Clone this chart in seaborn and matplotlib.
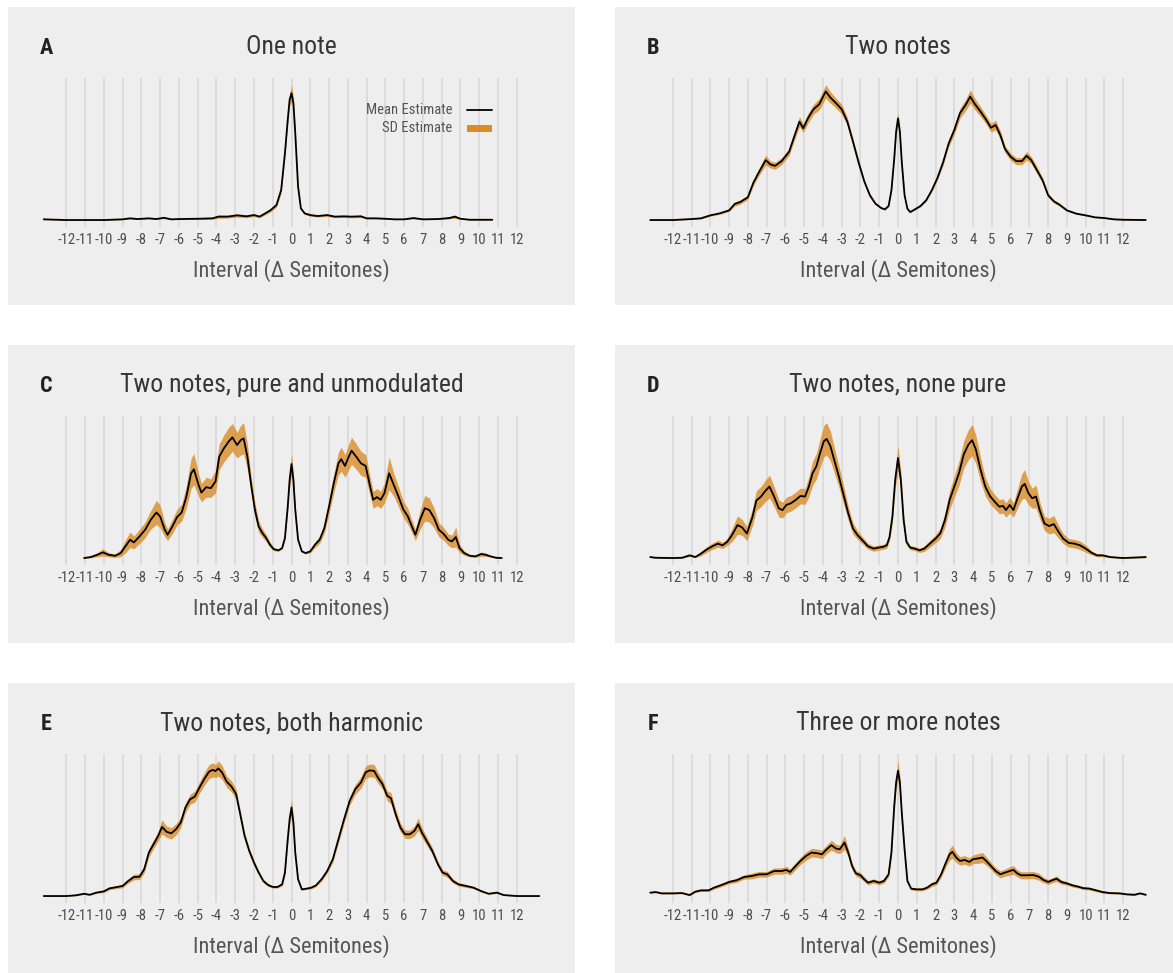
import matplotlib
matplotlib.use("Agg")
import matplotlib.pyplot as plt
from matplotlib.patches import Rectangle
from matplotlib.lines import Line2D
import pandas as pd
import seaborn as sns

# ---- interval axis ---------------------------------------------------------
tick_values = list(range(-12, 13))
tick_labels = [str(v) for v in tick_values]
axis_title = "Interval (\u0394 Semitones)"

# ---- A: one note -----------------------------------------------------------
x_a = [-13.2, -12, -10, -9, -8.6, -8.2, -7.6, -7.2, -6.8, -6.4, -6.0, -5.0, -4.2,
       -3.9, -3.4, -2.9, -2.4, -2.0, -1.7, -1.4, -1.1, -0.8, -0.55, -0.35, -0.2,
       -0.1, 0.0, 0.1, 0.2, 0.35, 0.5, 0.7, 1.0, 1.4, 1.9, 2.3, 2.8, 3.2, 3.7,
       4.0, 4.5, 5.0, 5.5, 6.0, 6.5, 7.0, 7.8, 8.4, 8.7, 9.0, 9.5, 10.0, 10.7]
mean_a = [0.5, 0.0, 0.0, 0.5, 1.2, 0.7, 1.2, 0.7, 1.6, 0.5, 0.7, 0.9, 1.2,
          2.4, 2.4, 3.3, 2.6, 3.5, 2.4, 4.7, 7.1, 10.6, 21.2, 47.1, 70.6,
          84.7, 89.4, 82.4, 61.2, 23.5, 8.2, 4.7, 3.5, 2.8, 3.5, 2.4, 2.6, 2.4, 2.6,
          1.2, 1.2, 0.9, 0.5, 0.5, 1.4, 0.5, 0.7, 1.4, 2.4, 0.9, 0.2, 0.2, 0.2]
sd_a = [0.2, 0.2, 0.2, 0.3, 0.4, 0.3, 0.4, 0.3, 0.6, 0.3, 0.3, 0.4, 0.6,
        1.2, 1.0, 1.2, 1.0, 1.0, 0.8, 1.0, 1.2, 1.5, 2.0, 2.5, 3.0,
        4.0, 5.9, 4.0, 3.0, 2.0, 1.0, 0.8, 0.8, 0.7, 1.0, 0.7, 0.8, 0.8, 0.9,
        0.4, 0.4, 0.3, 0.2, 0.2, 0.6, 0.3, 0.3, 0.6, 1.2, 0.4, 0.2, 0.2, 0.2]

# ---- B: two notes ----------------------------------------------------------
x_b = [-13.2, -12.0, -11.0, -10.5, -10.0, -9.5, -9.0, -8.7, -8.4, -8.0,
       -7.7, -7.4, -7.05, -6.8, -6.55, -6.2, -5.8, -5.5, -5.25, -5.05,
       -4.8, -4.5, -4.2, -3.85, -3.6, -3.3, -3.0, -2.7, -2.4, -2.1,
       -1.8, -1.5, -1.2, -0.9, -0.7, -0.5, -0.35, -0.2, -0.1, 0.0,
       0.1, 0.2, 0.35, 0.5, 0.65, 0.9, 1.2, 1.5, 1.8, 2.1,
       2.4, 2.7, 3.0, 3.3, 3.6, 3.85, 4.1, 4.4, 4.7, 4.95,
       5.2, 5.45, 5.7, 6.0, 6.3, 6.6, 6.85, 7.1, 7.4, 7.7,
       8.0, 8.3, 8.6, 9.0, 9.5, 10.0, 10.5, 11.0, 11.5, 12.0,
       13.2]
mean_b = [0.0, 0.0, 0.7, 1.2, 3.3, 4.7, 6.8, 11.3, 12.7, 16.0,
          26.4, 33.9, 42.1, 39.1, 38.1, 41.4, 48.0, 59.8, 69.2, 64.5,
          71.5, 77.9, 81.4, 90.4, 86.1, 82.1, 77.9, 69.2, 55.1, 40.5,
          27.3, 17.4, 11.5, 8.5, 7.5, 9.9, 20.9, 43.3, 62.1, 71.5,
          62.1, 40.9, 17.4, 8.0, 5.6, 7.5, 9.9, 13.9, 20.9, 29.6,
          40.5, 53.9, 63.3, 75.1, 80.9, 86.8, 81.4, 76.2, 70.4, 64.9,
          66.8, 59.8, 49.9, 44.5, 41.4, 41.4, 45.2, 42.1, 35.1, 28.0,
          17.4, 13.2, 10.8, 6.8, 4.5, 3.3, 1.9, 1.4, 0.5, 0.2,
          0.0]
sd_b = [0.2, 0.2, 0.3, 0.4, 0.6, 0.7, 0.8, 1.5, 1.5, 1.5,
        2.0, 2.5, 3.5, 2.5, 2.5, 2.5, 2.5, 3.0, 3.5, 3.0,
        3.5, 3.5, 4.0, 4.7, 4.0, 3.5, 3.5, 3.0, 2.5, 2.0,
        1.5, 1.2, 0.8, 0.6, 0.5, 0.6, 1.0, 1.5, 2.5, 4.2,
        2.5, 1.5, 1.0, 0.5, 0.4, 0.5, 0.6, 0.8, 1.0, 1.5,
        2.0, 2.5, 3.0, 3.5, 4.0, 4.7, 4.0, 3.5, 3.0, 3.0,
        3.5, 3.0, 2.5, 2.5, 2.5, 2.5, 3.0, 2.5, 2.5, 2.0,
        1.5, 1.2, 1.0, 0.7, 0.5, 0.5, 0.3, 0.3, 0.2, 0.2,
        0.2]

# ---- C: two notes, pure and unmodulated -----------------------------------
x_c = [-11.05, -10.7, -10.35, -10.05, -9.75, -9.4, -9.1, -8.85, -8.6, -8.4,
       -8.1, -7.8, -7.5, -7.2, -7.0, -6.75, -6.6, -6.35, -6.1, -5.85,
       -5.6, -5.35, -5.2, -4.95, -4.8, -4.55, -4.3, -4.05, -3.85, -3.6,
       -3.35, -3.15, -2.9, -2.7, -2.55, -2.35, -2.15, -1.95, -1.75, -1.55,
       -1.35, -1.15, -0.95, -0.7, -0.5, -0.35, -0.2, -0.1, 0.0, 0.1,
       0.2, 0.35, 0.55, 0.75, 1.0, 1.25, 1.5, 1.75, 2.0, 2.25,
       2.5, 2.65, 2.85, 3.05, 3.2, 3.45, 3.7, 3.95, 4.15, 4.35,
       4.55, 4.75, 4.95, 5.2, 5.45, 5.7, 5.95, 6.2, 6.4, 6.6,
       6.85, 7.1, 7.35, 7.6, 7.85, 8.1, 8.35, 8.55, 8.75, 8.95,
       9.2, 9.5, 9.8, 10.1, 10.35, 10.6, 10.9, 11.2]
mean_c = [0.0, 0.7, 2.3, 4.0, 2.3, 1.6, 3.5, 8.2, 12.9, 11.0,
          15.2, 19.9, 26.9, 32.1, 29.3, 19.9, 16.4, 22.2, 28.8, 32.1,
          43.3, 59.7, 62.5, 51.5, 46.1, 49.9, 49.2, 53.9, 71.4, 77.3,
          82.0, 85.0, 79.6, 83.1, 84.3, 71.4, 51.5, 34.0, 22.2, 17.6,
          14.1, 9.4, 6.3, 5.4, 7.0, 14.1, 36.3, 55.0, 66.3, 55.0,
          34.0, 12.9, 4.7, 3.5, 4.7, 9.4, 12.9, 21.1, 36.3, 52.7,
          66.7, 69.6, 64.9, 71.4, 75.6, 71.4, 66.7, 64.9, 52.7, 41.0,
          42.9, 41.0, 45.7, 59.7, 51.5, 43.3, 34.4, 29.3, 22.7, 16.4,
          26.9, 35.1, 33.7, 28.1, 19.9, 17.1, 12.9, 11.7, 14.8, 7.0,
          3.5, 1.6, 1.2, 2.8, 2.3, 1.2, 0.2, 0.0]
sd_c = [0.3, 0.6, 1.5, 2.5, 1.5, 1.2, 2.5, 4.5, 5.5, 4.5,
        5.0, 5.5, 6.5, 8.5, 8.0, 5.0, 4.0, 5.0, 5.5, 6.0,
        8.0, 10.5, 11.0, 8.0, 6.5, 7.0, 6.5, 8.0, 9.0, 9.5,
        10.0, 9.8, 9.0, 10.5, 11.0, 9.0, 6.0, 5.0, 4.0, 3.0,
        2.5, 2.0, 1.2, 0.6, 0.8, 1.5, 3.0, 5.0, 7.5, 5.0,
        3.0, 1.2, 0.6, 0.6, 1.0, 2.0, 2.5, 3.5, 5.0, 6.5,
        8.0, 8.5, 8.0, 9.0, 9.5, 9.0, 8.5, 8.0, 7.0, 6.0,
        6.0, 6.0, 7.0, 11.5, 8.0, 7.0, 6.0, 5.5, 4.5, 4.0,
        6.5, 9.0, 8.5, 7.0, 5.0, 4.5, 4.0, 4.5, 7.0, 3.0,
        1.5, 0.8, 0.8, 1.5, 1.2, 0.6, 0.3, 0.2]

# ---- D: two notes, none pure ----------------------------------------------
x_d = [-13.2, -12.9, -12.0, -11.5, -11.1, -10.8, -10.5, -10.2, -9.9, -9.6,
       -9.35, -9.1, -8.85, -8.55, -8.3, -8.05, -7.75, -7.55, -7.3, -7.05,
       -6.85, -6.6, -6.35, -6.15, -5.95, -5.7, -5.45, -5.2, -4.95, -4.75,
       -4.55, -4.35, -4.15, -3.95, -3.8, -3.6, -3.4, -3.15, -2.9, -2.65,
       -2.4, -2.15, -1.9, -1.6, -1.3, -1.05, -0.8, -0.6, -0.45, -0.3,
       -0.15, 0.0, 0.15, 0.3, 0.45, 0.65, 0.9, 1.15, 1.4, 1.7,
       2.0, 2.25, 2.5, 2.75, 3.0, 3.25, 3.5, 3.75, 3.95, 4.15,
       4.4, 4.65, 4.9, 5.15, 5.4, 5.6, 5.75, 5.95, 6.15, 6.4,
       6.6, 6.75, 6.95, 7.15, 7.35, 7.55, 7.8, 8.05, 8.3, 8.55,
       8.8, 9.1, 9.4, 9.7, 10.0, 10.3, 10.6, 10.9, 11.3, 12.0,
       13.2]
mean_d = [0.7, 0.2, 0.0, 0.2, 1.9, 0.7, 3.1, 5.9, 8.2, 10.1,
          8.9, 11.3, 16.0, 23.1, 21.4, 17.2, 28.9, 40.2, 43.1, 47.3,
          50.1, 43.1, 34.8, 33.6, 37.2, 38.4, 40.7, 43.5, 43.1, 50.1,
          59.5, 64.2, 73.6, 81.9, 83.5, 78.4, 68.9, 57.2, 44.2, 31.3,
          20.7, 16.0, 12.5, 8.2, 6.6, 7.3, 7.8, 8.9, 14.8, 28.9,
          54.8, 70.1, 54.8, 26.6, 11.3, 7.3, 6.6, 5.4, 6.6, 10.1,
          13.6, 17.2, 26.6, 40.7, 50.1, 59.5, 72.5, 79.5, 82.6, 76.0,
          61.9, 50.1, 43.5, 39.5, 36.0, 36.5, 33.6, 37.2, 33.6, 43.1,
          50.1, 52.0, 45.4, 41.9, 43.1, 33.6, 24.2, 22.4, 23.8, 18.4,
          13.6, 10.6, 10.1, 8.9, 6.6, 3.8, 1.9, 1.9, 0.7, 0.0,
          0.7]
sd_d = [0.5, 0.3, 0.3, 0.3, 0.8, 0.5, 1.5, 2.0, 2.2, 2.5,
        2.2, 2.5, 4.5, 6.5, 5.5, 5.0, 6.0, 7.0, 7.0, 7.5,
        8.0, 7.0, 6.0, 5.5, 5.5, 5.5, 5.5, 5.5, 5.5, 7.0,
        8.5, 9.0, 10.0, 11.0, 11.3, 10.5, 9.0, 7.5, 6.5, 5.0,
        4.0, 3.0, 2.5, 2.0, 1.8, 1.8, 1.8, 2.0, 2.5, 4.0,
        6.0, 8.7, 6.0, 3.5, 2.0, 1.5, 1.5, 1.5, 2.0, 2.5,
        2.8, 3.5, 5.0, 6.5, 7.5, 8.5, 9.5, 10.5, 11.0, 10.0,
        8.5, 6.5, 5.5, 5.0, 5.0, 5.0, 5.0, 5.5, 5.0, 7.0,
        9.0, 10.0, 8.0, 7.0, 8.0, 6.0, 5.0, 5.5, 6.0, 4.5,
        3.5, 3.0, 3.0, 3.0, 2.5, 1.5, 1.0, 1.0, 0.5, 0.3,
        0.5]

# ---- E: two notes, both harmonic ------------------------------------------
x_e = [-13.2, -12.0, -11.5, -11.05, -10.75, -10.4, -10.0, -9.7, -9.4, -9.0,
       -8.7, -8.4, -8.1, -7.85, -7.6, -7.35, -7.1, -6.9, -6.65, -6.4,
       -6.15, -5.9, -5.65, -5.4, -5.15, -4.9, -4.65, -4.4, -4.2, -4.05,
       -3.9, -3.7, -3.45, -3.2, -2.95, -2.75, -2.5, -2.25, -2.0, -1.75,
       -1.5, -1.25, -1.0, -0.75, -0.5, -0.35, -0.2, -0.1, 0.0, 0.1,
       0.2, 0.35, 0.55, 0.8, 1.05, 1.3, 1.6, 1.9, 2.2, 2.5,
       2.8, 3.1, 3.4, 3.7, 3.95, 4.15, 4.4, 4.6, 4.85, 5.1,
       5.3, 5.55, 5.8, 6.05, 6.3, 6.55, 6.75, 6.95, 7.2, 7.5,
       7.8, 8.05, 8.3, 8.6, 8.9, 9.3, 9.7, 10.1, 10.5, 10.95,
       11.3, 12.0, 13.2]
mean_e = [0.0, 0.0, 0.5, 1.6, 0.9, 2.4, 3.3, 5.4, 6.1, 7.1,
          10.6, 13.4, 13.6, 18.8, 30.6, 36.5, 42.4, 48.7, 45.2, 44.2,
          47.1, 51.8, 62.4, 68.2, 70.1, 76.5, 82.4, 87.5, 88.9, 88.0,
          89.9, 87.1, 80.5, 77.2, 71.8, 58.8, 42.4, 31.8, 23.5, 16.5,
          10.6, 7.8, 6.4, 6.4, 8.2, 16.5, 40.0, 54.1, 62.4, 51.8,
          30.6, 11.8, 4.7, 5.2, 5.9, 7.5, 11.8, 17.6, 25.9, 40.0,
          54.1, 67.1, 75.3, 80.0, 87.1, 88.5, 88.2, 83.5, 78.8, 70.6,
          68.9, 57.6, 48.2, 43.5, 43.5, 45.9, 50.6, 44.7, 38.8, 31.8,
          22.4, 16.5, 15.3, 10.6, 8.2, 7.1, 5.9, 3.5, 1.6, 2.4,
          0.7, 0.0, 0.0]
sd_e = [0.2, 0.2, 0.3, 0.5, 0.4, 0.6, 0.8, 1.0, 1.0, 1.2,
        1.5, 2.0, 2.0, 2.5, 3.0, 3.0, 3.5, 5.0, 4.0, 4.0,
        4.0, 3.5, 3.5, 3.5, 4.0, 4.0, 4.5, 5.0, 5.0, 4.5,
        5.4, 5.0, 4.0, 4.0, 3.5, 3.0, 2.5, 2.0, 1.8, 1.5,
        1.2, 1.0, 0.8, 0.8, 1.0, 1.5, 2.5, 3.5, 5.9, 3.5,
        2.0, 1.0, 0.6, 0.6, 0.8, 1.0, 1.2, 1.5, 2.0, 2.5,
        3.0, 3.0, 3.5, 4.0, 4.5, 4.5, 4.5, 4.0, 3.5, 3.5,
        4.0, 3.5, 3.0, 3.0, 3.0, 3.5, 4.5, 3.5, 3.0, 2.5,
        2.0, 2.0, 2.0, 1.5, 1.2, 1.0, 0.8, 0.6, 0.4, 0.6,
        0.3, 0.2, 0.2]

# ---- F: three or more notes -----------------------------------------------
x_f = [-13.2, -12.9, -12.6, -12.0, -11.5, -11.1, -10.8, -10.5, -10.1, -9.8,
       -9.4, -9.0, -8.6, -8.2, -7.8, -7.4, -7.0, -6.6, -6.2, -5.95,
       -5.75, -5.5, -5.2, -4.9, -4.6, -4.3, -4.05, -3.8, -3.55, -3.3,
       -3.1, -2.85, -2.65, -2.45, -2.25, -2.0, -1.8, -1.6, -1.3, -1.0,
       -0.75, -0.5, -0.35, -0.2, -0.1, 0.0, 0.1, 0.2, 0.35, 0.5,
       0.7, 1.0, 1.3, 1.55, 1.8, 2.05, 2.3, 2.55, 2.75, 2.9,
       3.1, 3.3, 3.55, 3.8, 4.0, 4.25, 4.5, 4.7, 4.95, 5.2,
       5.45, 5.7, 5.95, 6.15, 6.35, 6.55, 6.9, 7.2, 7.5, 7.75,
       8.0, 8.25, 8.45, 8.7, 9.0, 9.3, 9.6, 9.85, 10.2, 10.5,
       10.9, 11.3, 11.8, 12.2, 12.6, 12.9, 13.2]
mean_f = [2.4, 2.8, 1.9, 1.9, 2.1, 0.7, 3.1, 4.0, 4.0, 5.9,
          7.8, 9.9, 11.1, 13.4, 14.1, 15.3, 15.3, 17.6, 17.6, 18.4,
          16.9, 20.5, 24.7, 28.2, 30.6, 30.1, 29.4, 32.9, 35.8, 33.4,
          32.9, 37.6, 30.6, 21.2, 16.0, 14.6, 11.8, 9.4, 10.6, 9.4,
          10.6, 15.3, 30.6, 63.5, 80.0, 88.2, 80.0, 58.8, 32.9, 10.6,
          5.2, 4.7, 4.7, 5.9, 8.2, 9.4, 15.3, 23.5, 29.4, 31.1,
          27.1, 24.7, 25.4, 24.0, 25.9, 26.4, 27.1, 24.7, 21.2, 17.6,
          15.3, 16.5, 17.6, 18.4, 16.0, 14.6, 14.6, 14.8, 13.6, 11.3,
          9.9, 11.3, 12.2, 9.9, 8.9, 7.5, 6.6, 5.6, 5.2, 4.2,
          2.8, 2.1, 1.9, 1.2, 0.9, 1.9, 0.9]
sd_f = [0.5, 0.5, 0.5, 0.5, 0.5, 0.5, 0.6, 0.8, 0.8, 1.0,
        1.2, 1.2, 1.5, 1.5, 2.0, 2.0, 2.0, 2.2, 2.2, 2.5,
        2.2, 2.5, 2.5, 3.0, 3.0, 3.0, 3.0, 3.0, 3.5, 3.0,
        3.0, 5.0, 3.0, 2.5, 2.0, 2.0, 1.8, 1.5, 1.5, 1.5,
        1.5, 1.8, 2.5, 3.5, 4.5, 7.0, 4.5, 3.0, 2.0, 1.2,
        1.0, 1.0, 1.0, 1.2, 1.5, 1.5, 2.0, 3.0, 4.0, 4.7,
        3.5, 3.0, 3.0, 3.0, 3.0, 3.5, 3.5, 3.0, 2.5, 2.5,
        2.5, 2.5, 3.0, 3.0, 2.5, 2.5, 2.5, 2.5, 2.5, 2.0,
        1.8, 1.8, 2.0, 1.5, 1.2, 1.2, 1.0, 1.0, 1.0, 1.0,
        0.8, 0.6, 0.6, 0.5, 0.5, 0.5, 0.5]

panels = [
    ("A", "One note", x_a, mean_a, sd_a),
    ("B", "Two notes", x_b, mean_b, sd_b),
    ("C", "Two notes, pure and unmodulated", x_c, mean_c, sd_c),
    ("D", "Two notes, none pure", x_d, mean_d, sd_d),
    ("E", "Two notes, both harmonic", x_e, mean_e, sd_e),
    ("F", "Three or more notes", x_f, mean_f, sd_f),
]

# ---- style -----------------------------------------------------------------
sns.set_style("white")
plt.rcParams["font.family"] = ["Roboto Condensed", "Liberation Sans Narrow",
                               "Roboto", "DejaVu Sans"]

BG = "#EEEEEE"
GRID = "#DCDCDC"
ORANGE = "#D98C28"
TITLE_C = "#363636"
TEXT_C = "#555555"

W, H = 1173, 973
fig = plt.figure(figsize=(W / 100, H / 100), dpi=100, facecolor="white")


def fx(px):
    return px / W


def fy(py):
    return 1 - py / H


col_box = [(8, 575), (615, 1181)]
col_zero = [291.5, 898.0]
col_letter = [46, 653]
row_top = [7, 345, 683]
BOX_H = 298
PX_PER_SEMI = 18.77
XLIM = (-14, 14)

for i, (letter, title, xs, mean, sd) in enumerate(panels):
    r, c = divmod(i, 2)
    T = row_top[r]
    bx0, bx1 = col_box[c]
    fig.add_artist(Rectangle((fx(bx0), fy(T + BOX_H)), (bx1 - bx0) / W, BOX_H / H,
                             transform=fig.transFigure, facecolor=BG,
                             edgecolor="none", zorder=-5))

    ax_left = col_zero[c] + XLIM[0] * PX_PER_SEMI
    ax_w = (XLIM[1] - XLIM[0]) * PX_PER_SEMI
    ax_top, ax_bot = T + 71, T + 219.8
    ax = fig.add_axes([fx(ax_left), fy(ax_bot), ax_w / W, (ax_bot - ax_top) / H])
    ax.set_facecolor("none")

    df = pd.DataFrame({"interval": xs, "mean": mean, "sd": sd})
    lo = df["mean"] - df["sd"]
    hi = df["mean"] + df["sd"]
    ax.fill_between(df["interval"], lo, hi, color=ORANGE, alpha=0.8,
                    linewidth=0, zorder=2)
    sns.lineplot(data=df, x="interval", y="mean", ax=ax, color="black",
                 linewidth=1.3, estimator=None, zorder=3)

    top = hi.max()
    ax.set_ylim(-0.05 * top, 1.05 * top)
    ax.set_xlim(*XLIM)
    ax.set_xticks(tick_values)
    ax.set_xticklabels(tick_labels)
    ax.set_yticks([])
    ax.set_xlabel("")
    ax.set_ylabel("")
    ax.grid(True, axis="x", color=GRID, linewidth=1.4)
    ax.grid(False, axis="y")
    ax.set_axisbelow(True)
    for s in ax.spines.values():
        s.set_visible(False)
    ax.tick_params(axis="x", length=0, pad=4.5, labelsize=10.5, labelcolor="#4D4D4D")

    fig.text(fx(col_letter[c]), fy(T + 47), letter, ha="center", va="baseline",
             fontsize=16, fontweight="bold", color="#222222")
    fig.text(fx(col_zero[c]), fy(T + 47), title, ha="center", va="baseline",
             fontsize=18.5, color=TITLE_C)
    fig.text(fx(col_zero[c]), fy(T + 270), axis_title, ha="center", va="baseline",
             fontsize=16, color=TEXT_C)

# ---- legend in panel A -----------------------------------------------------
fig.text(fx(452), fy(114.5), "Mean Estimate", ha="right", va="baseline",
         fontsize=10.5, color=TEXT_C)
fig.text(fx(452), fy(132.5), "SD Estimate", ha="right", va="baseline",
         fontsize=10.5, color=TEXT_C)
fig.add_artist(Line2D([fx(467), fx(492)], [fy(110), fy(110)],
                      transform=fig.transFigure, color="black", linewidth=1.3))
fig.add_artist(Rectangle((fx(467), fy(132)), 25 / W, 7 / H,
                         transform=fig.transFigure, facecolor=ORANGE,
                         edgecolor="none"))

fig.savefig("out.png", dpi=100, facecolor="white")
